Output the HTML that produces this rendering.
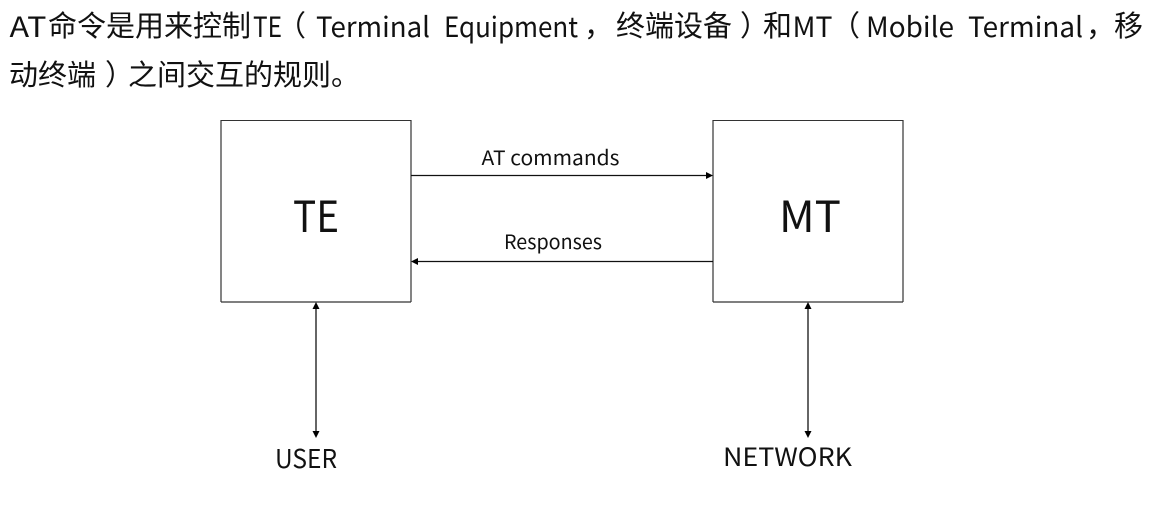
<!DOCTYPE html>
<html><head><meta charset="utf-8">
<style>
html,body{margin:0;padding:0;background:#fff;width:1176px;height:509px;overflow:hidden}
svg{position:absolute;left:0;top:0}
text{fill:#111;font-family:"Noto Sans CJK SC","Liberation Sans",sans-serif}
.t{font-size:28px;font-weight:400}
.z{font-size:29px}
</style></head><body>
<svg width="1176" height="509" viewBox="0 0 1176 509" xmlns="http://www.w3.org/2000/svg">
<g>
<text class="t" x="9.500" y="37" textLength="37" lengthAdjust="spacingAndGlyphs">AT</text>
<text class="z" x="48" y="36">命令是用来控制</text>
<text class="t" x="253" y="37" textLength="29" lengthAdjust="spacingAndGlyphs">TE</text>
<text class="z" x="277" y="36">（</text>
<text class="t" x="316" y="37" textLength="114" lengthAdjust="spacingAndGlyphs">Terminal</text>
<text class="t" x="444" y="37" textLength="134" lengthAdjust="spacingAndGlyphs">Equipment</text>
<text class="z" x="584" y="36">，</text>
<text class="z" x="616" y="36">终端设备</text>
<text class="z" x="740" y="36">）</text>
<text class="z" x="763" y="36">和</text>
<text class="t" x="792.500" y="37" textLength="40" lengthAdjust="spacingAndGlyphs">MT</text>
<text class="z" x="831" y="36">（</text>
<text class="t" x="866" y="37" textLength="88" lengthAdjust="spacingAndGlyphs">Mobile</text>
<text class="t" x="968" y="37" textLength="115" lengthAdjust="spacingAndGlyphs">Terminal</text>
<text class="z" x="1086" y="36">，</text>
<text class="z" x="1114" y="36">移</text>
<text class="z" x="9" y="85">动终端</text>
<text class="z" x="105" y="85">）</text>
<text class="z" x="128" y="85">之间交互的规则。</text>
</g>
<g fill="none" stroke="#333" stroke-width="1.200">
<line x1="221" y1="120.500" x2="411" y2="120.500" stroke-width="1"/>
<line x1="221" y1="120" x2="221" y2="302"/>
<line x1="411" y1="120" x2="411" y2="302"/>
<line x1="221" y1="302" x2="411" y2="302"/>
<line x1="713" y1="120.500" x2="903" y2="120.500" stroke-width="1"/>
<line x1="713" y1="120" x2="713" y2="302"/>
<line x1="903" y1="120" x2="903" y2="302"/>
<line x1="713" y1="302" x2="903" y2="302"/>
</g>
<g stroke="#111" stroke-width="1.200">
<line x1="411" y1="175.500" x2="708" y2="175.500"/>
<line x1="416" y1="261.500" x2="713" y2="261.500"/>
<line x1="316" y1="307" x2="316" y2="433" stroke="#333" stroke-width="1.500"/>
<line x1="808" y1="307" x2="808" y2="433" stroke="#333" stroke-width="1.500"/>
</g>
<g fill="#000">
<polygon points="713,175.500 706,172 706,179"/>
<polygon points="411,261.500 418,258 418,265"/>
<polygon points="316,302 312.500,309 319.500,309"/>
<polygon points="316,438 312.500,431 319.500,431"/>
<polygon points="808,302 804.500,309 811.500,309"/>
<polygon points="808,438 804.500,431 811.500,431"/>
</g>
<text x="293" y="232" font-size="43" textLength="46" lengthAdjust="spacingAndGlyphs">TE</text>
<text x="779" y="232" font-size="43" textLength="62" lengthAdjust="spacingAndGlyphs">MT</text>
<text x="481.500" y="165" font-size="20" textLength="138" lengthAdjust="spacingAndGlyphs">AT commands</text>
<text x="504" y="249" font-size="20" textLength="98" lengthAdjust="spacingAndGlyphs">Responses</text>
<text x="275" y="468" font-size="26" textLength="62" lengthAdjust="spacingAndGlyphs">USER</text>
<text x="723" y="466" font-size="25.500" textLength="129" lengthAdjust="spacingAndGlyphs">NETWORK</text>
</svg>
</body></html>
